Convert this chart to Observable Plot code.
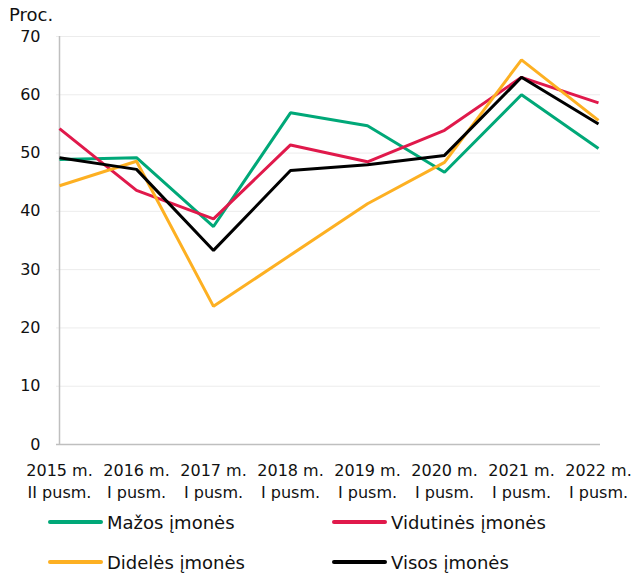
<!DOCTYPE html>
<html>
<head>
<meta charset="utf-8">
<script src="https://cdn.jsdelivr.net/npm/d3@7"></script>
<script src="https://cdn.jsdelivr.net/npm/@observablehq/plot@0.6"></script>
<style>
  body { margin: 0; background: #fff; font-family: "DejaVu Sans", Verdana, sans-serif; }
  #wrap { position: relative; width: 632px; height: 573px; }
  #ylab { position: absolute; left: 9px; top: 6px; font-size: 18px; line-height: 18px; color: #111; }
  .lg { position: absolute; display: flex; align-items: center; font-size: 18px; color: #111; white-space: nowrap; }
  .sw { width: 55px; height: 4px; border-radius: 2px; margin-right: 4px; }
</style>
</head>
<body>
<div id="wrap">
  <div id="chart"></div>
  <div id="ylab">Proc.</div>
  <div id="legend"></div>
</div>
<script>
const periods = ["2015 m.\nII pusm.", "2016 m.\nI pusm.", "2017 m.\nI pusm.", "2018 m.\nI pusm.",
                 "2019 m.\nI pusm.", "2020 m.\nI pusm.", "2021 m.\nI pusm.", "2022 m.\nI pusm."];
const seriesNames = ["Mažos įmonės", "Vidutinės įmonės", "Didelės įmonės", "Visos įmonės"];
const seriesColors = ["#00a878", "#e0194b", "#fdb022", "#000000"];
const mazos     = [48.9, 49.2, 37.4, 56.9, 54.7, 46.7, 60.0, 50.8];
const vidutines = [54.2, 43.6, 38.7, 51.4, 48.5, 53.9, 63.0, 58.6];
const dideles   = [44.4, 48.6, 23.7, 32.5, 41.3, 48.4, 66.0, 55.6];
const visos     = [49.2, 47.2, 33.3, 47.0, 48.0, 49.6, 63.0, 55.0];
const yTicks = [0, 10, 20, 30, 40, 50, 60, 70];

const allSeries = [mazos, vidutines, dideles, visos];
const data = [];
allSeries.forEach((vals, si) => vals.forEach((v, i) => data.push({period: periods[i], value: v, series: seriesNames[si]})));

const chart = Plot.plot({
  width: 632,
  height: 505,
  marginTop: 36,
  marginBottom: 61,
  marginLeft: 56,
  marginRight: 32,
  style: {fontFamily: "DejaVu Sans, Verdana, sans-serif", color: "#111", background: "#fff"},
  x: {type: "point", domain: periods, padding: 0},
  y: {domain: [0, 70]},
  color: {domain: seriesNames, range: seriesColors},
  marks: [
    Plot.gridY(yTicks.filter(d => d > 0), {stroke: "#ececec", strokeOpacity: 1, strokeWidth: 1}),
    Plot.axisY(yTicks, {tickSize: 0, tickPadding: 16, fontSize: 16, label: null}),
    Plot.axisX({tickSize: 0, tickPadding: 16, fontSize: 16, lineHeight: 1.375, label: null}),
    Plot.ruleY([0], {stroke: "#bfbfbf", strokeWidth: 1.5}),
    Plot.ruleX([periods[0]], {y1: 0, y2: 70, stroke: "#bfbfbf", strokeWidth: 1.5}),
    Plot.line(data, {x: "period", y: "value", z: "series", stroke: "series", strokeWidth: 3, strokeLinejoin: "miter", strokeLinecap: "butt"})
  ]
});
document.getElementById("chart").appendChild(chart);

const legendPos = [[48, 522], [332, 522], [48, 562], [332, 562]];
const legend = document.getElementById("legend");
seriesNames.forEach((name, i) => {
  const item = document.createElement("div");
  item.className = "lg";
  item.style.left = legendPos[i][0] + "px";
  item.style.top = (legendPos[i][1] - 12) + "px";
  item.style.height = "24px";
  const sw = document.createElement("div");
  sw.className = "sw";
  sw.style.background = seriesColors[i];
  const t = document.createElement("span");
  t.textContent = name;
  item.appendChild(sw);
  item.appendChild(t);
  legend.appendChild(item);
});
</script>
</body>
</html>
